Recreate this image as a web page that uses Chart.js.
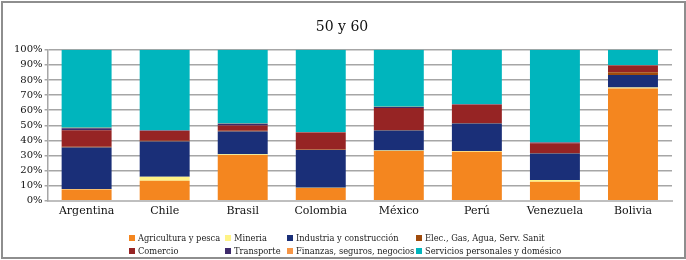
<!DOCTYPE html>
<html>
<head>
<meta charset="utf-8">
<script src="https://cdn.jsdelivr.net/npm/chart.js"></script>
<style>
  body { margin: 0; background: #fff; }
  #wrap { position: relative; width: 686px; height: 260px; }
  #frame { position: absolute; left: 1px; top: 1px; width: 681px; height: 254px; border: 2px solid #8e8e8e; pointer-events: none; }
  #legend { position: absolute; left: 129px; top: 233px; font: 8.3px "DejaVu Serif", serif; color: #222;
            display: grid; grid-template-columns: 96px 62px 129px auto; row-gap: 4px; }
  #legend span.it { display: flex; align-items: center; white-space: nowrap; height: 9px; }
  #legend i { display: inline-block; flex-shrink: 0; width: 6px; height: 6px; margin-right: 3px; }
</style>
</head>
<body>
<div id="wrap">
  <canvas id="chart1" width="686" height="260"></canvas>
  <div id="legend"></div>
  <div id="frame"></div>
</div>
<script>
// categorias (paises)
var paises = ["Argentina", "Chile", "Brasil", "Colombia", "México", "Perú", "Venezuela", "Bolivia"];

// porcentaje por sector, en el orden de la pila (de abajo hacia arriba)
var agricultura = [7.5, 13.3, 30.4, 8.4, 32.9, 32.5, 12.6, 74.3];
var mineria     = [0.3, 2.7, 0.4, 0.3, 0.4, 0.5, 1.1, 0.7];
var industria   = [27.5, 23.2, 15.1, 25.0, 13.2, 18.2, 17.6, 8.3];
var elec        = [0.5, 0.5, 0.5, 0.3, 0.4, 0.3, 0.3, 1.8];
var comercio    = [11.0, 6.6, 3.5, 11.2, 14.6, 12.1, 6.5, 4.5];
var transporte  = [1.3, 0.3, 1.1, 0.2, 0.6, 0.3, 0.5, 0.2];
var finanzas    = [0.3, 0.2, 0.2, 0.2, 0.2, 0.2, 0.2, 0.2];
var servicios   = [51.6, 53.2, 48.8, 54.4, 37.7, 35.9, 61.2, 10.0];

// etiquetas del eje y
var yTicks = ["0%", "10%", "20%", "30%", "40%", "50%", "60%", "70%", "80%", "90%", "100%"];

var series = [
  { label: "Agricultura y pesca", data: agricultura, color: "#F4861F" },
  { label: "Mineria", data: mineria, color: "#FFF385" },
  { label: "Industria  y construcción", data: industria, color: "#1A2F78" },
  { label: "Elec., Gas, Agua, Serv. Sanit", data: elec, color: "#A04B0C" },
  { label: "Comercio", data: comercio, color: "#962424" },
  { label: "Transporte", data: transporte, color: "#3E2A6B" },
  { label: "Finanzas, seguros, negocios", data: finanzas, color: "#F79646" },
  { label: "Servicios personales y domésico", data: servicios, color: "#00B5BD" }
];

var ctx1 = document.getElementById("chart1");
var myChart1 = new Chart(ctx1, {
  type: 'bar',
  data: {
    labels: paises,
    datasets: series.map(function (s) {
      return {
        label: s.label,
        data: s.data,
        backgroundColor: s.color,
        borderWidth: 0,
        categoryPercentage: 1,
        barPercentage: 0.64
      };
    })
  },
  options: {
    responsive: false,
    animation: false,
    layout: { padding: { left: 12, right: 14, top: 0, bottom: 38 } },
    plugins: {
      legend: { display: false },
      tooltip: { enabled: false },
      title: {
        display: true,
        text: "50 y 60",
        color: "#111",
        font: { family: "DejaVu Serif", size: 14, weight: 'normal' },
        padding: { top: 19, bottom: 14 }
      }
    },
    scales: {
      x: {
        stacked: true,
        grid: { display: false, drawTicks: false },
        border: { color: "#bfbfbf", width: 2 },
        ticks: { color: "#111", font: { family: "DejaVu Serif", size: 11 }, padding: 4 }
      },
      y: {
        stacked: true,
        min: 0,
        max: 100,
        ticks: {
          stepSize: 10,
          autoSkip: false,
          color: "#111",
          padding: 2,
          font: { family: "DejaVu Serif", size: 10 },
          callback: function (v, i) { return yTicks[i]; }
        },
        grid: { color: "#a6a6a6", lineWidth: 1.5, tickLength: 3 },
        border: { color: "#a6a6a6", width: 1.5 }
      }
    }
  }
});

// leyenda en dos filas
var leg = document.getElementById("legend");
series.forEach(function (s) {
  var it = document.createElement("span");
  it.className = "it";
  it.innerHTML = '<i style="background:' + s.color + '"></i>' + s.label;
  leg.appendChild(it);
});
</script>
</body>
</html>
